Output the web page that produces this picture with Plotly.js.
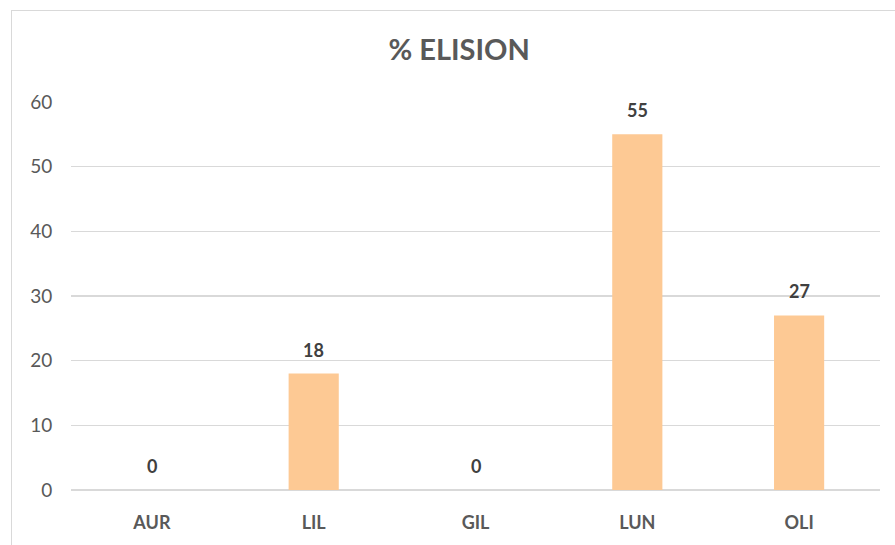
<!DOCTYPE html>
<html>
<head>
<meta charset="utf-8">
<script src="https://cdn.plot.ly/plotly-3.0.1.min.js"></script>
<style>
  html, body { margin: 0; padding: 0; background: #fff; overflow: hidden; }
  #frame { position: absolute; left: 11px; top: 10px; width: 900px; height: 560px; border: 1.5px solid #d9d9d9; box-sizing: border-box; pointer-events: none; }
  #chart { position: absolute; left: 0; top: 0; width: 895px; height: 545px; }
</style>
</head>
<body>
<div id="chart"></div>
<div id="frame"></div>
<script>
const categories = ["AUR", "LIL", "GIL", "LUN", "OLI"];
const values = [0, 18, 0, 55, 27];
const labels = ["0", "18", "0", "55", "27"];
const yTicks = [0, 10, 20, 30, 40, 50, 60];

const font = "Lato, 'Open Sans', 'Liberation Sans', sans-serif";

const trace = {
  type: "bar",
  x: categories,
  y: values,
  marker: { color: "#FDC994" },
  hoverinfo: "none"
};

const annotations = categories.map((c, i) => ({
  x: c, y: values[i], xref: "x", yref: "y",
  text: "<b>" + labels[i] + "</b>",
  showarrow: false, yanchor: "middle", yshift: 24,
  font: { family: font, size: 18, color: "#404040" }
}));

const layout = {
  width: 895, height: 545,
  margin: { l: 71, r: 15, t: 102, b: 55 },
  paper_bgcolor: "#fff", plot_bgcolor: "#fff",
  bargap: 0.69,
  showlegend: false,
  title: {
    text: "<b>% ELISION</b>",
    font: { family: font, size: 29, color: "#595959" },
    x: 0.513, xref: "container", xanchor: "center",
    y: 0.908, yref: "container", yanchor: "middle"
  },
  xaxis: {
    type: "category",
    tickfont: { family: font, size: 18, color: "#595959", weight: "bold" },
    ticks: "outside", ticklen: 16, tickcolor: "rgba(0,0,0,0)",
    showgrid: false, zeroline: false, showline: false,
    fixedrange: true
  },
  yaxis: {
    range: [0, 60],
    tickvals: yTicks,
    ticktext: yTicks.map(String),
    tickfont: { family: font, size: 19, color: "#595959" },
    ticks: "outside", ticklen: 14, tickcolor: "rgba(0,0,0,0)",
    showgrid: true, gridcolor: "#d9d9d9", gridwidth: 1.5,
    zeroline: true, zerolinecolor: "#d9d9d9", zerolinewidth: 1.5,
    showline: false, fixedrange: true
  },
  annotations: annotations
};

Plotly.newPlot("chart", [trace], layout, { displayModeBar: false, staticPlot: true });
</script>
</body>
</html>
